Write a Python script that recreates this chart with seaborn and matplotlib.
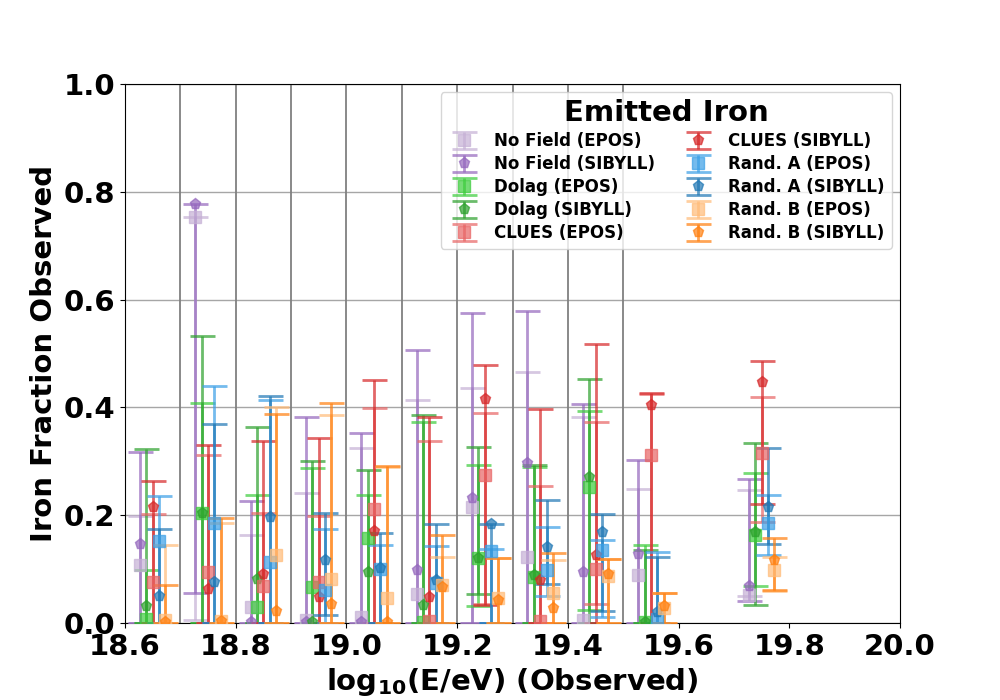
import numpy as np
import matplotlib
matplotlib.use("Agg")
import matplotlib.pyplot as plt
import seaborn as sns

# bin centres in log10(E/eV)
bin_centres = [18.65, 18.75, 18.85, 18.95, 19.05, 19.15, 19.25, 19.35, 19.45, 19.55, 19.75]
bin_edges = [18.7, 18.8, 18.9, 19.0, 19.1, 19.2, 19.3, 19.4, 19.5]

models = ["No Field", "Dolag", "CLUES", "Rand. A", "Rand. B"]

# iron fraction (value, lower bound, upper bound) per model and hadronic model
nofield_epos = [0.107, 0.754, 0.030, 0.005, 0.012, 0.053, 0.215, 0.122, 0.005, 0.089, 0.052]
nofield_epos_lo = [0, 0.005, 0, 0, 0, 0, 0, 0, 0, 0, 0.050]
nofield_epos_hi = [0.199, 0.754, 0.164, 0.242, 0.325, 0.414, 0.436, 0.466, 0.382, 0.249, 0.247]

nofield_sib = [0.146, 0.777, 0.002, 0.002, 0.002, 0.098, 0.231, 0.296, 0.095, 0.128, 0.069]
nofield_sib_lo = [0, 0.055, 0, 0, 0, 0, 0, 0, 0, 0, 0.041]
nofield_sib_hi = [0.317, 0.778, 0.227, 0.382, 0.353, 0.507, 0.576, 0.578, 0.407, 0.302, 0.267]

dolag_epos = [0.007, 0.204, 0.030, 0.066, 0.157, 0.002, 0.121, 0.085, 0.253, 0.002, 0.163]
dolag_epos_lo = [0, 0, 0, 0, 0, 0, 0.032, 0, 0.024, 0, 0.069]
dolag_epos_hi = [0.098, 0.409, 0.237, 0.288, 0.238, 0.373, 0.293, 0.290, 0.394, 0.145, 0.279]

dolag_sib = [0.031, 0.204, 0.081, 0.002, 0.094, 0.033, 0.121, 0.089, 0.270, 0.002, 0.168]
dolag_sib_lo = [0, 0, 0, 0, 0, 0, 0.054, 0, 0, 0, 0.033]
dolag_sib_hi = [0.322, 0.532, 0.363, 0.301, 0.283, 0.385, 0.327, 0.294, 0.453, 0.136, 0.334]

clues_epos = [0.076, 0.094, 0.068, 0.076, 0.212, 0.003, 0.274, 0.004, 0.100, 0.312, 0.315]
clues_epos_lo = [0, 0, 0, 0, 0, 0, 0.035, 0, 0.035, 0, 0.187]
clues_epos_hi = [0.202, 0.311, 0.205, 0.199, 0.399, 0.338, 0.390, 0.255, 0.373, 0.424, 0.420]

clues_sib = [0.216, 0.063, 0.091, 0.048, 0.170, 0.048, 0.416, 0.079, 0.126, 0.405, 0.447]
clues_sib_lo = [0, 0, 0, 0, 0, 0, 0.033, 0, 0, 0, 0.221]
clues_sib_hi = [0.263, 0.330, 0.338, 0.344, 0.451, 0.382, 0.478, 0.397, 0.518, 0.427, 0.486]

randa_epos = [0.152, 0.185, 0.113, 0.061, 0.100, 0.075, 0.134, 0.099, 0.136, 0.008, 0.185]
randa_epos_lo = [0, 0, 0, 0, 0, 0, 0, 0.050, 0.011, 0, 0.126]
randa_epos_hi = [0.236, 0.439, 0.413, 0.175, 0.145, 0.143, 0.138, 0.178, 0.154, 0.132, 0.237]

randa_sib = [0.051, 0.076, 0.197, 0.116, 0.102, 0.080, 0.184, 0.141, 0.169, 0.021, 0.216]
randa_sib_lo = [0, 0, 0, 0.015, 0, 0, 0, 0.073, 0.022, 0, 0.146]
randa_sib_hi = [0.174, 0.369, 0.421, 0.205, 0.167, 0.184, 0.184, 0.228, 0.202, 0.122, 0.325]

randb_epos = [0.005, 0.003, 0.126, 0.081, 0.047, 0.071, 0.047, 0.055, 0.088, 0.027, 0.099]
randb_epos_lo = [0, 0, 0, 0, 0, 0, 0, 0, 0, 0, 0.060]
randb_epos_hi = [0.144, 0.185, 0.401, 0.385, 0.290, 0.122, 0.121, 0.117, 0.118, 0.055, 0.122]

randb_sib = [0.002, 0.003, 0.022, 0.036, 0.002, 0.066, 0.043, 0.027, 0.091, 0.032, 0.117]
randb_sib_lo = [0, 0, 0, 0, 0, 0, 0, 0, 0, 0, 0.061]
randb_sib_hi = [0.070, 0.194, 0.387, 0.409, 0.291, 0.163, 0.121, 0.130, 0.118, 0.055, 0.157]

series = [
    ("No Field (EPOS)", nofield_epos, nofield_epos_lo, nofield_epos_hi),
    ("No Field (SIBYLL)", nofield_sib, nofield_sib_lo, nofield_sib_hi),
    ("Dolag (EPOS)", dolag_epos, dolag_epos_lo, dolag_epos_hi),
    ("Dolag (SIBYLL)", dolag_sib, dolag_sib_lo, dolag_sib_hi),
    ("CLUES (EPOS)", clues_epos, clues_epos_lo, clues_epos_hi),
    ("CLUES (SIBYLL)", clues_sib, clues_sib_lo, clues_sib_hi),
    ("Rand. A (EPOS)", randa_epos, randa_epos_lo, randa_epos_hi),
    ("Rand. A (SIBYLL)", randa_sib, randa_sib_lo, randa_sib_hi),
    ("Rand. B (EPOS)", randb_epos, randb_epos_lo, randb_epos_hi),
    ("Rand. B (SIBYLL)", randb_sib, randb_sib_lo, randb_sib_hi),
]

colors = ["#c5b0d5", "#9467bd", "#3ccc3c", "#2ca02c", "#e86464",
          "#d62728", "#3a9fe6", "#1f77b4", "#ffbb78", "#ff7f0e"]

sns.set_style("ticks", {"axes.edgecolor": "black", "xtick.color": "black",
                        "ytick.color": "black", "text.color": "black",
                        "axes.labelcolor": "black"})
plt.rcParams["font.family"] = ["DejaVu Sans"]
plt.rcParams["font.weight"] = "bold"

fig, ax = plt.subplots(figsize=(10, 7), dpi=100)

step = 0.0115
for i, (label, val, lo, hi) in enumerate(series):
    model_idx = i // 2
    x = np.array(bin_centres) + (model_idx - 2) * step
    val = np.array(val)
    err = [val - np.array(lo), np.array(hi) - val]
    ax.errorbar(x, val, yerr=err, fmt="s" if i % 2 == 0 else "p",
                color=colors[i], alpha=0.7, markersize=8, elinewidth=2,
                capsize=9, capthick=2, label=label, zorder=3)

for e in bin_edges:
    ax.axvline(e, color="gray", lw=1.3, zorder=1)
ax.grid(axis="y", color="gray", lw=1, alpha=0.7)

ax.set_xlim(18.6, 20.0)
ax.set_ylim(0, 1)
ax.set_xticks([18.6, 18.8, 19.0, 19.2, 19.4, 19.6, 19.8, 20.0])
ax.set_yticks([0.0, 0.2, 0.4, 0.6, 0.8, 1.0])
ax.tick_params(labelsize=21, colors="black")
for t in ax.get_xticklabels() + ax.get_yticklabels():
    t.set_fontweight("bold")

ax.set_xlabel(r"log$_\mathbf{10}$(E/eV) (Observed)", fontsize=21, fontweight="bold")
ax.set_ylabel("Iron Fraction Observed", fontsize=21, fontweight="bold")

leg = ax.legend(loc="upper right", ncol=2, title="Emitted Iron",
                prop={"size": 12, "weight": "bold"}, columnspacing=1.6,
                labelspacing=0.3, handletextpad=0.8)
leg.get_title().set_fontsize(21)
leg.get_title().set_fontweight("bold")

fig.savefig("out.png", dpi=100)
